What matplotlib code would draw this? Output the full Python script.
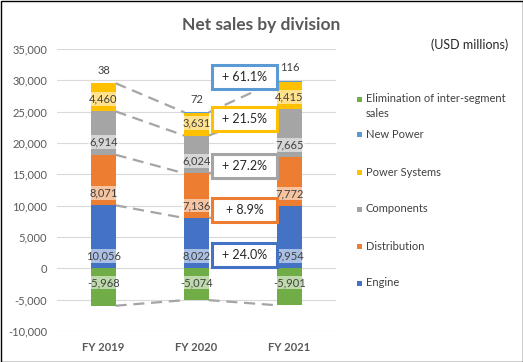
import matplotlib
matplotlib.use("Agg")
import matplotlib.pyplot as plt
from matplotlib.patches import Rectangle
import numpy as np

# ---- data ----
years = ["FY 2019", "FY 2020", "FY 2021"]
engine = [10056, 8022, 9954]
distribution = [8071, 7136, 7772]
components = [6914, 6024, 7665]
power_systems = [4460, 3631, 4415]
new_power = [38, 72, 116]
elimination = [-5968, -5074, -5901]
growth_labels = ["+ 61.1%", "+ 21.5%", "+ 27.2%", "+ 8.9%", "+ 24.0%"]
y_ticks = [-10000, -5000, 0, 5000, 10000, 15000, 20000, 25000, 30000, 35000]

plt.rcParams['font.family'] = ['Lato', 'DejaVu Sans']

C_ENG = '#4472C4'
C_DIS = '#ED7D31'
C_COM = '#A5A5A5'
C_PS = '#FFC000'
C_NP = '#5B9BD5'
C_EL = '#70AD47'
TXT = '#404040'

W, H = 523, 362
fig = plt.figure(figsize=(W / 100, H / 100), dpi=100)
fig.patch.set_facecolor('white')
ax = fig.add_axes([57 / W, 1 - 331 / H, 279 / W, 282 / H])
ax.set_xlim(-0.5, 2.5)
ax.set_ylim(-10000, 35000)
for s in ax.spines.values():
    s.set_visible(False)
ax.set_yticks(y_ticks)
ax.set_yticklabels([f"{v:,}" for v in y_ticks], color='#595959', fontsize=8)
ax.grid(axis='y', color='#D9D9D9', lw=0.8, zorder=0)
ax.set_axisbelow(True)
x = np.arange(len(years))
ax.set_xticks(x)
ax.set_xticklabels(years, color='#595959', fontsize=8, fontweight='bold')
ax.tick_params(axis='both', length=0)
ax.tick_params(axis='y', pad=7)
ax.tick_params(axis='x', pad=8)

bw = 0.26
series = [(engine, C_ENG), (distribution, C_DIS), (components, C_COM),
          (power_systems, C_PS), (new_power, C_NP)]
bottom = np.zeros(3)
bases = []
for vals, col in series:
    v = np.array(vals, dtype=float)
    ax.bar(x, v, bw, bottom=bottom, color=col, zorder=2)
    bases.append(bottom.copy())
    bottom = bottom + v
tops_total = bottom.copy()
ax.bar(x, elimination, bw, color=C_EL, zorder=2)

lab_box = dict(boxstyle='square,pad=0.12', fc='white', ec='none', alpha=0.55)
# inside-base labels
for (vals, col), base in zip(series[:4], bases[:4]):
    for i in range(3):
        ax.annotate(f"{vals[i]:,}", (x[i], base[i]), xytext=(0, 9), textcoords='offset points',
                    ha='center', va='center', fontsize=8, color=TXT, bbox=lab_box, zorder=4)
for i in range(3):
    ax.annotate(f"{new_power[i]:,}", (x[i], tops_total[i]), xytext=(0, 9.5), textcoords='offset points',
                ha='center', va='center', fontsize=8, color=TXT, zorder=4)
    ax.annotate(f"{elimination[i]:,}", (x[i], 0), xytext=(0, -10.3), textcoords='offset points',
                ha='center', va='center', fontsize=8, color=TXT, bbox=lab_box, zorder=4)

# connecting dashed lines
levels = [tops_total, bases[3], bases[2], bases[1], np.array(elimination, dtype=float)]
for lv in levels:
    for i in range(2):
        ax.plot([x[i] + bw / 2, x[i + 1] - bw / 2], [lv[i], lv[i + 1]], color='#A5A5A5',
                lw=1.6, ls=(0, (5, 3)), zorder=1.5)

# growth boxes
box_cols = [C_NP, C_PS, C_COM, C_DIS, C_ENG]
box_y = [30610, 23827, 16327, 9384, 2202]
bx = 1.52
bwid = 65 / 93
bh = 24 / (219.3 / 35000)
for lab, col, cy in zip(growth_labels, box_cols, box_y):
    ax.add_patch(Rectangle((bx - bwid / 2, cy - bh / 2), bwid, bh, fc='white', ec=col, lw=2.2, zorder=5))
    ax.text(bx, cy, lab, ha='center', va='center', fontsize=9, color='#262626', zorder=6)

# title and unit
fig.text(0.5, 1 - 25 / H, "Net sales by division", ha='center', va='center', fontsize=12.5,
         fontweight='bold', color='#595959')
fig.text(508 / W, 1 - 45 / H, "(USD millions)", ha='right', va='center', fontsize=9, color='#262626')

# legend (manual)
leg_items = [("Elimination of inter-segment\nsales", C_EL, 99),
             ("New Power", C_NP, 135), ("Power Systems", C_PS, 172),
             ("Components", C_COM, 209), ("Distribution", C_DIS, 246), ("Engine", C_ENG, 283)]
for lab, col, yy in leg_items:
    fig.add_artist(Rectangle((357 / W, 1 - (yy + 2.5) / H), 5 / W, 5 / H, transform=fig.transFigure,
                             fc=col, ec='none'))
    if '\n' in lab:
        fig.text(366 / W, 1 - (yy + 7) / H, lab, ha='left', va='center',
                 fontsize=8, color=TXT, linespacing=1.5)
    else:
        fig.text(366 / W, 1 - yy / H, lab, ha='left', va='center', fontsize=8, color=TXT)

# figure border
fig.add_artist(Rectangle((0.5 / W, 0.5 / H), 1 - 1 / W, 1 - 1 / H, transform=fig.transFigure,
                         fc='none', ec='black', lw=1.0))

fig.savefig('out.png', dpi=100)
